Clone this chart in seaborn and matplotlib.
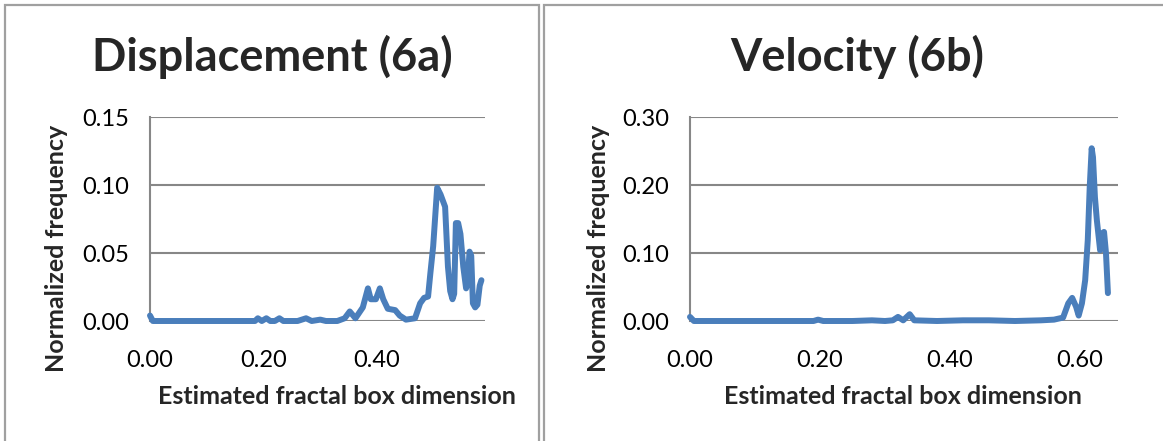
import matplotlib
matplotlib.use("Agg")
import matplotlib.pyplot as plt
import seaborn as sns
import pandas as pd
from matplotlib.patches import Rectangle

# ---- data ----
disp_x = [0.000, 0.005, 0.05, 0.10, 0.15, 0.185, 0.19, 0.197, 0.205, 0.212, 0.22, 0.228,
          0.235, 0.26, 0.275, 0.285, 0.30, 0.31, 0.33, 0.343, 0.352, 0.362, 0.375, 0.384,
          0.389, 0.398, 0.405, 0.411, 0.419, 0.432, 0.440, 0.451, 0.467, 0.476, 0.483,
          0.490, 0.494, 0.499, 0.506, 0.512, 0.520, 0.525, 0.529, 0.533, 0.536, 0.539,
          0.543, 0.547, 0.552, 0.557, 0.560, 0.563, 0.566, 0.569, 0.573, 0.577, 0.581, 0.584]
disp_y = [0.004, 0.000, 0.000, 0.000, 0.000, 0.000, 0.002, 0.000, 0.002, 0.000, 0.000, 0.002,
          0.000, 0.000, 0.002, 0.000, 0.001, 0.000, 0.000, 0.002, 0.007, 0.002, 0.010, 0.024,
          0.016, 0.016, 0.024, 0.016, 0.009, 0.008, 0.004, 0.001, 0.002, 0.013, 0.017,
          0.018, 0.035, 0.055, 0.098, 0.093, 0.084, 0.040, 0.022, 0.016, 0.020, 0.072,
          0.072, 0.064, 0.040, 0.024, 0.030, 0.051, 0.048, 0.013, 0.010, 0.012, 0.026, 0.030]

vel_x = [0.000, 0.006, 0.05, 0.10, 0.15, 0.19, 0.197, 0.205, 0.25, 0.28, 0.30, 0.312,
         0.320, 0.328, 0.338, 0.345, 0.38, 0.42, 0.46, 0.50, 0.54, 0.56, 0.574, 0.582,
         0.588, 0.594, 0.598, 0.603, 0.608, 0.612, 0.615, 0.618, 0.620, 0.623, 0.626,
         0.631, 0.634, 0.637, 0.640, 0.643]
vel_y = [0.006, 0.000, 0.000, 0.000, 0.000, 0.000, 0.002, 0.000, 0.000, 0.001, 0.000, 0.001,
         0.006, 0.001, 0.010, 0.001, 0.000, 0.001, 0.001, 0.000, 0.001, 0.002, 0.005, 0.026,
         0.034, 0.021, 0.008, 0.026, 0.060, 0.119, 0.197, 0.254, 0.241, 0.182, 0.148,
         0.104, 0.129, 0.131, 0.100, 0.041]

titles = ["Displacement (6a)", "Velocity (6b)"]
xlabel = "Estimated fractal box dimension"
ylabel = "Normalized frequency"
disp_yticks = [0.00, 0.05, 0.10, 0.15]
vel_yticks = [0.00, 0.10, 0.20, 0.30]
disp_xticks = [0.00, 0.20, 0.40]
vel_xticks = [0.00, 0.20, 0.40, 0.60]

sns.set_style("white")
plt.rcParams['font.family'] = ['Lato', 'DejaVu Sans']

LINE = "#4A7EBB"
GRID = "#878787"
BORDER = "#A0A0A0"

fig = plt.figure(figsize=(11.63, 4.41), dpi=100)
W, H = 1163, 441

def px_axes(x0, x1, ytop, ybot):
    return fig.add_axes([x0 / W, 1 - ybot / H, (x1 - x0) / W, (ybot - ytop) / H])

# panel borders
fig.patches.append(Rectangle((5 / W, -0.1), (539 - 5) / W, 1 - 5 / H + 0.1,
                             transform=fig.transFigure, fill=False, ec=BORDER, lw=1.6))
fig.patches.append(Rectangle((544 / W, -0.1), 0.6, 1 - 5 / H + 0.1,
                             transform=fig.transFigure, fill=False, ec=BORDER, lw=1.6))

ax1 = px_axes(150, 485, 117, 321)
ax2 = px_axes(690, 1118, 117, 321)

specs = [
    (ax1, disp_x, disp_y, 0.5903, disp_xticks, disp_yticks, 272, 57),
    (ax2, vel_x, vel_y, 0.6585, vel_xticks, vel_yticks, 857, 599),
]

for i, (ax, xs, ys, xmax, xt, yt, tcx, ylx) in enumerate(specs):
    df = pd.DataFrame({"x": xs, "y": ys})
    sns.lineplot(data=df, x="x", y="y", ax=ax, color=LINE, lw=4.3,
                 solid_joinstyle="round", solid_capstyle="round", clip_on=False, zorder=5)
    ax.set_xlim(0, xmax)
    ax.set_ylim(yt[0], yt[-1])
    ax.set_yticks(yt)
    ax.set_yticklabels([f"{v:.2f}" for v in yt])
    ax.set_xticks(xt)
    ax.set_xticklabels([f"{v:.2f}" for v in xt])
    ax.grid(axis="y", color=GRID, lw=1.5)
    ax.grid(axis="x", visible=False)
    ax.set_axisbelow(True)
    for s in ["top", "right", "bottom"]:
        ax.spines[s].set_visible(False)
    ax.spines["left"].set_color(GRID)
    ax.spines["left"].set_linewidth(1.5)
    ax.tick_params(axis="both", which="both", direction="out", length=7, width=1.5,
                   color=GRID, labelsize=17, labelcolor="black")
    ax.tick_params(axis="x", pad=14)
    ax.tick_params(axis="y", pad=8)
    ax.set_xlabel("")
    ax.set_ylabel("")
    fig.text(tcx / W, 1 - 57 / H, titles[i], ha="center", va="center",
             fontsize=32.5, fontweight="bold")
    fig.text(ylx / W, 1 - 248 / H, ylabel, ha="center", va="center", rotation=90,
             fontsize=18, fontweight="bold")
    xlc = 337 if i == 0 else 903
    fig.text(xlc / W, 1 - 396 / H, xlabel, ha="center", va="center",
             fontsize=18, fontweight="bold")

fig.savefig("out.png", dpi=100)
